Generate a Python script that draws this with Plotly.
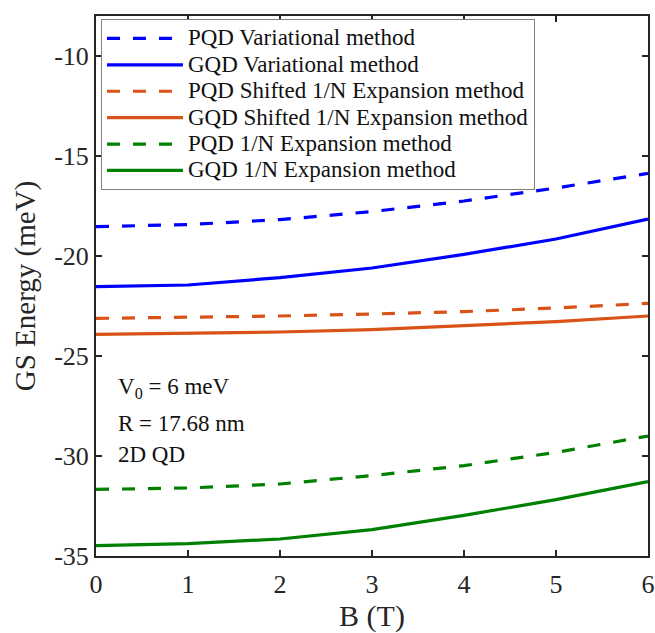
import plotly.graph_objects as go

B = [0, 1, 2, 3, 4, 5, 6]
pqd_var = [-18.53, -18.43, -18.18, -17.78, -17.25, -16.60, -15.87]
gqd_var = [-21.53, -21.45, -21.08, -20.60, -19.92, -19.15, -18.15]
pqd_shift = [-23.12, -23.08, -23.00, -22.90, -22.78, -22.60, -22.37]
gqd_shift = [-23.92, -23.88, -23.80, -23.68, -23.50, -23.28, -23.00]
pqd_1n = [-31.67, -31.60, -31.40, -30.98, -30.48, -29.82, -29.00]
gqd_1n = [-34.48, -34.38, -34.15, -33.68, -32.97, -32.18, -31.28]

series_names = [
    "PQD Variational method",
    "GQD Variational method",
    "PQD Shifted 1/N Expansion method",
    "GQD Shifted 1/N Expansion method",
    "PQD 1/N Expansion method",
    "GQD 1/N Expansion method",
]
series_values = [pqd_var, gqd_var, pqd_shift, gqd_shift, pqd_1n, gqd_1n]
colors = ["#0000FF", "#0000FF", "#D95319", "#D95319", "#008000", "#008000"]
dashes = ["13px,13px", "solid", "13px,13px", "solid", "13px,13px", "solid"]

yticks = [-35, -30, -25, -20, -15, -10]
yticktext = ["-35", "-30", "-25", "-20", "-15", "-10"]
xticks = [0, 1, 2, 3, 4, 5, 6]

font_family = "Liberation Serif"

fig = go.Figure()
for name, vals, c, d in zip(series_names, series_values, colors, dashes):
    fig.add_trace(go.Scatter(x=B, y=vals, mode="lines",
                             name='<span style="font-size:23px">' + name + '</span>',
                             line=dict(color=c, width=3.2, dash=d)))

annot_lines = ["V<sub>0</sub> = 6 meV", "R = 17.68 nm", "2D QD"]
annot_y = [-26.6, -28.35, -29.9]
for t, yv in zip(annot_lines, annot_y):
    fig.add_annotation(x=0.22, y=yv, xref="x", yref="y", text=t, showarrow=False,
                       xanchor="left", yanchor="middle",
                       font=dict(family=font_family, size=23, color="#111"))

axis_common = dict(showline=True, linecolor="#262626", linewidth=2, mirror="ticks",
                   ticks="inside", ticklen=6, tickwidth=1.5, tickcolor="#262626",
                   showgrid=False, zeroline=False, automargin=False,
                   tickfont=dict(family=font_family, size=26, color="#262626"))

fig.update_xaxes(range=[0, 6], tickvals=xticks, ticklabelstandoff=4,
                 title=dict(text="B (T)", font=dict(family=font_family, size=30, color="#262626"), standoff=10),
                 **axis_common)
fig.update_yaxes(range=[-35, -8], tickvals=yticks, ticktext=yticktext,
                 title=dict(text="GS Energy (meV)", font=dict(family=font_family, size=29, color="#262626"), standoff=10),
                 **axis_common)

fig.update_layout(
    width=655, height=633,
    margin=dict(l=96, r=7, t=16, b=77),
    plot_bgcolor="white", paper_bgcolor="white",
    legend=dict(x=0.009, y=0.994, xanchor="left", yanchor="top",
                bordercolor="#7f7f7f", borderwidth=1, bgcolor="white",
                font=dict(family=font_family, size=18, color="#111"),
                tracegroupgap=0, itemwidth=76),
    showlegend=True,
)

fig.write_html("out.html")
